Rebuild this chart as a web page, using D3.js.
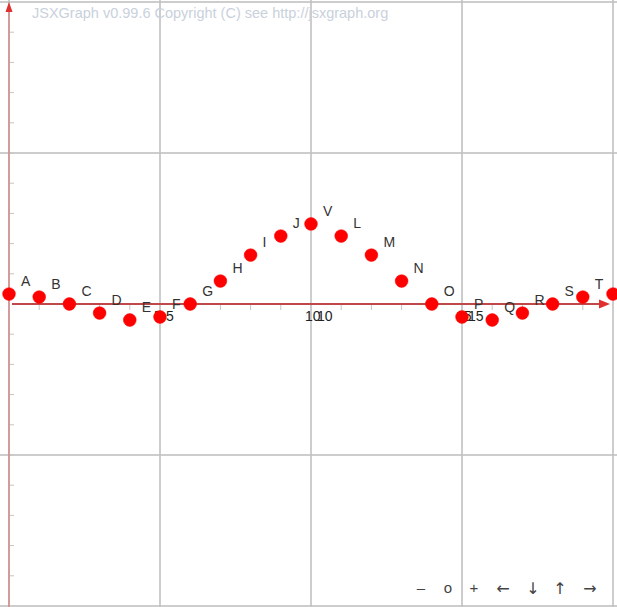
<!DOCTYPE html>
<html>
<head>
<meta charset="utf-8">
<script src="https://cdn.jsdelivr.net/npm/d3@7"></script>
<style>
html,body{margin:0;padding:0;background:#fff;overflow:hidden;}
svg{display:block;}
text{font-family:"Liberation Sans",Arial,sans-serif;}
text.nav{font-family:"DejaVu Sans",sans-serif;}
</style>
</head>
<body>
<script>
// ---- data ----
const xValues = [0,1,2,3,4,5,6,7,8,9,10,11,12,13,14,15,16,17,18,19,20];
const yValues = [0.33,0.23,0,-0.3,-0.53,-0.43,0,0.76,1.62,2.25,2.65,2.25,1.62,0.76,0,-0.43,-0.53,-0.3,0,0.23,0.33];
const pointNames = ["A","B","C","D","E","F","G","H","I","J","V","L","M","N","O","P","Q","R","S","T","U"];
const gridX = [0,5,10,15,20];
const gridY = [-10,-5,5,10];
const xTickLabels = ["5","10","15"];
const xTickLabelPos = [5,10,15];
const copyright = "JSXGraph v0.99.6 Copyright (C) see http://jsxgraph.org";
const navButtons = ["\u2013","o","+","\u2190","\u2193","\u2191","\u2192"];

// ---- layout ----
const W = 617, H = 607;
const x = d3.scaleLinear().domain([0,20]).range([9,613]);
const y = d3.scaleLinear().domain([-10,10]).range([606,2]);

const svg = d3.select("body").append("svg").attr("width",W).attr("height",H);

// grid
svg.append("g").selectAll("line").data(gridX).join("line")
  .attr("x1",d=>x(d)).attr("x2",d=>x(d)).attr("y1",0).attr("y2",H)
  .attr("stroke","#c0c0c0").attr("stroke-width",2).attr("stroke-opacity",0.8);
svg.append("g").selectAll("line").data(gridY).join("line")
  .attr("y1",d=>y(d)).attr("y2",d=>y(d)).attr("x1",0).attr("x2",W)
  .attr("stroke","#c0c0c0").attr("stroke-width",2).attr("stroke-opacity",0.8);

// copyright
svg.append("text").attr("x",32).attr("y",18).attr("font-size",14.5)
  .attr("fill","#c9d1dc").text(copyright);

// axis ticks
const xt = d3.range(1,20);
svg.append("g").selectAll("line").data(xt).join("line")
  .attr("x1",d=>x(d)).attr("x2",d=>x(d)).attr("y1",y(0)).attr("y2",y(0)+6)
  .attr("stroke","#c4c4c4").attr("stroke-width",1);
const yt = d3.range(-9,10).filter(d=>d!==0);
svg.append("g").selectAll("line").data(yt).join("line")
  .attr("x1",x(0)).attr("x2",x(0)+5).attr("y1",d=>y(d)).attr("y2",d=>y(d))
  .attr("stroke","#c4c4c4").attr("stroke-width",1);

// y axis
svg.append("line").attr("x1",x(0)).attr("x2",x(0)).attr("y1",y(10)+8).attr("y2",H)
  .attr("stroke","#d88080").attr("stroke-width",1.3);
svg.append("path")
  .attr("d",`M${x(0)},${y(10)} L${x(0)-3.5},${y(10)+10} L${x(0)+3.5},${y(10)+10} Z`)
  .attr("fill","#e03030");

// x axis
svg.append("line").attr("x1",12).attr("x2",x(20)-12).attr("y1",y(0)).attr("y2",y(0))
  .attr("stroke","#c04848").attr("stroke-width",2);
svg.append("path")
  .attr("d",`M${x(20)-3},${y(0)} L${x(20)-14},${y(0)-4.5} L${x(20)-14},${y(0)+4.5} Z`)
  .attr("fill","#e03030");

// tick labels (drawn twice, as in the original)
const tl = svg.append("g").attr("font-size",14).attr("fill","#222");
tl.selectAll("text.a").data(xTickLabelPos).join("text").attr("class","a")
  .attr("x",d=>x(d)-6).attr("y",y(0)+17).text((d,i)=>xTickLabels[i]);
tl.selectAll("text.b").data(xTickLabelPos).join("text").attr("class","b")
  .attr("x",d=>x(d)+6).attr("y",y(0)+17).text((d,i)=>xTickLabels[i]);

// points
const pts = xValues.map((v,i)=>({x:v,y:yValues[i],name:pointNames[i]}));
svg.append("g").selectAll("circle").data(pts).join("circle")
  .attr("cx",d=>x(d.x)).attr("cy",d=>y(d.y)).attr("r",6.4)
  .attr("fill","#ff0000").attr("stroke","#ff0000").attr("stroke-width",0.5);
svg.append("g").attr("font-size",14).attr("fill","#333")
  .selectAll("text").data(pts).join("text")
  .attr("x",d=>x(d.x)+12).attr("y",d=>y(d.y)-8).text(d=>d.name);

// navigation bar
const navX = [421,448,474,503,533,560,590];
const navSize = [15,15,15,16,16,16,16];
const navY = [593,593,593,594,594,594,594];
svg.append("g").attr("fill","#444").attr("text-anchor","middle")
  .selectAll("text").data(navButtons).join("text")
  .attr("class",(d,i)=>i>=3?"nav":null)
  .attr("font-size",(d,i)=>navSize[i])
  .attr("x",(d,i)=>navX[i]).attr("y",(d,i)=>navY[i]).text(d=>d);
</script>
</body>
</html>
